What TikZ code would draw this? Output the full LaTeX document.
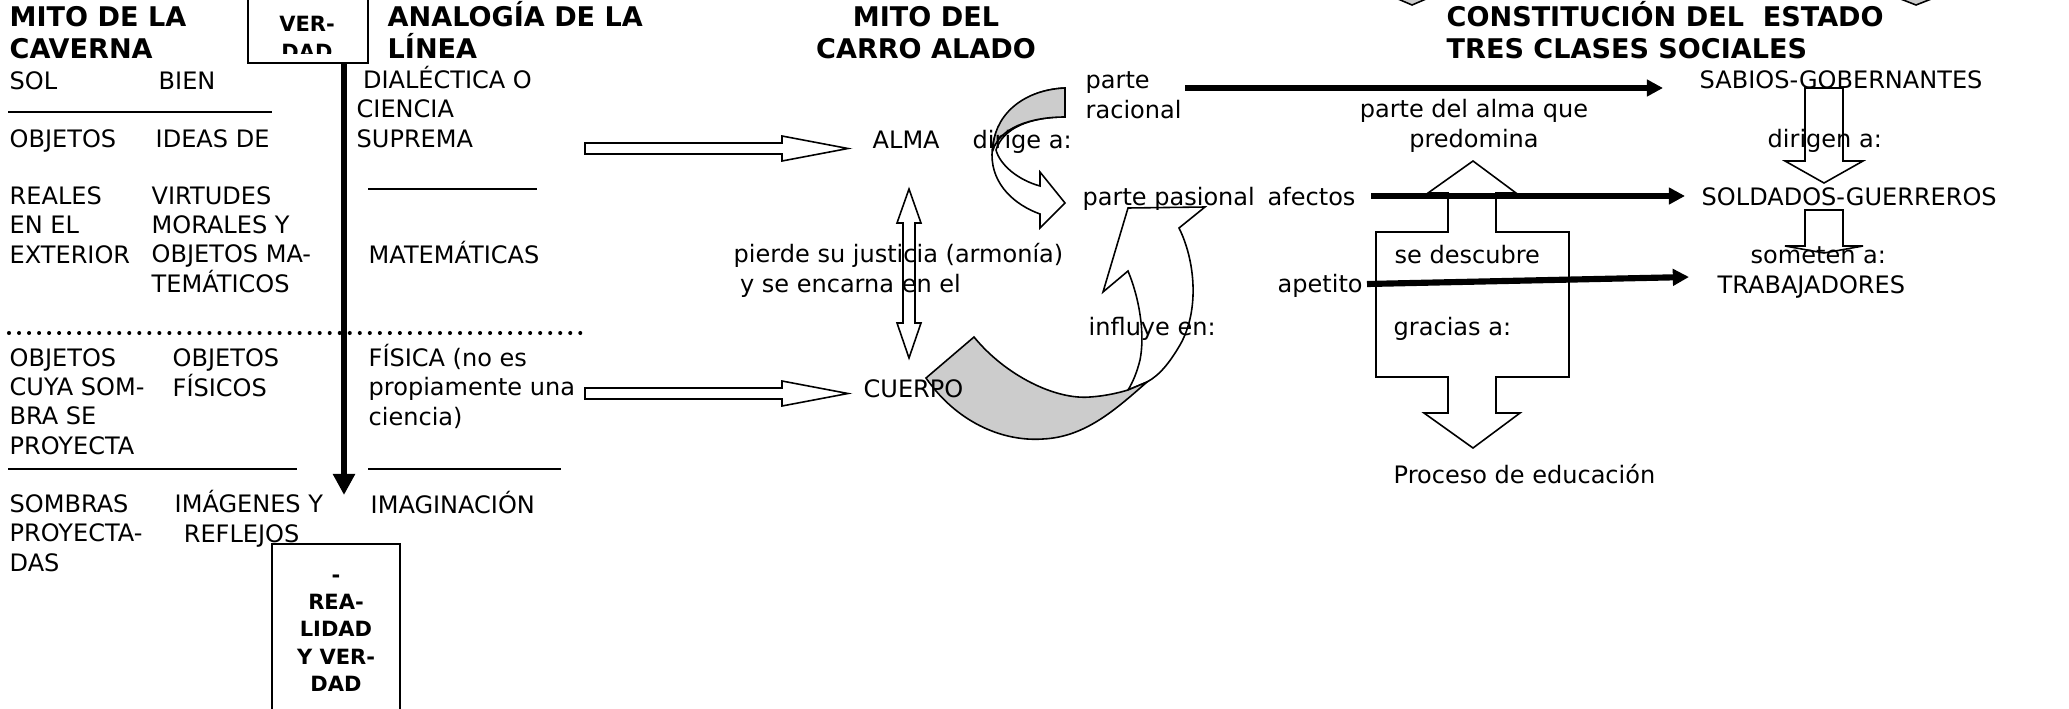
\documentclass[tikz,border=0pt]{standalone}
\usepackage{fontspec}
\setmainfont{DejaVu Sans}
\usetikzlibrary{arrows.meta}
\tikzset{
txt/.style={anchor=base west, inner sep=0, align=left, font=\fontsize{6.83}{8.25}\selectfont},
ttl/.style={txt, font=\bfseries\fontsize{7.7}{8.82}\selectfont},
boxtxt/.style={anchor=base, inner sep=0, align=center, font=\bfseries\fontsize{5.97}{7.68}\selectfont},
rule/.style={line width=0.5pt},
dots/.style={line width=1.15pt, line cap=round, dash pattern=on 0pt off 2.85pt},
heavy/.style={line width=1.75pt, -{Triangle[length=4.6pt, width=4.6pt]}},
hollow/.style={draw, line width=0.45pt, fill=white},
shade/.style={draw, line width=0.45pt, fill=gray!40}}

\begin{document}
\begin{tikzpicture}[x=0.01cm, y=-0.01cm]
\useasboundingbox (0,0) rectangle (2069,709);

% block arrows and curved arrows
\draw[hollow] (585,143) -- (782,143) -- (782,136) -- (848,148.5) -- (782,161) -- (782,154) -- (585,154) -- cycle;
\draw[hollow] (585,388) -- (782,388) -- (782,381) -- (848,393.5) -- (782,406) -- (782,399) -- (585,399) -- cycle;
\draw[line width=0.45pt] (909,189) -- (921,223) -- (915,223) -- (915,323) -- (921,323) -- (909,358)
  -- (897,323) -- (903,323) -- (903,223) -- (897,223) -- cycle;
% dirige a:
\draw[hollow] (1065,88) .. controls (1020,90) and (992,120) .. (992,155)
  .. controls (992,185) and (1015,205) .. (1040,214) -- (1040,228) -- (1065,203) -- (1040,172) -- (1040,186)
  .. controls (1018,180) and (1000,165) .. (996,150) .. controls (1003,128) and (1030,117) .. (1065,117) -- cycle;
\draw[shade] (1065,88) .. controls (1020,90) and (993,118) .. (993,150)
  .. controls (1000,128) and (1030,117) .. (1065,117) -- cycle;
% influye en:
\draw[hollow] (1147,382) .. controls (1160,375) and (1170,362) .. (1180,345)
  .. controls (1200,310) and (1195,260) .. (1179,228) -- (1205,207) -- (1128,208) -- (1103,292) -- (1128,271)
  .. controls (1140,300) and (1145,335) .. (1140,360) .. controls (1137,372) and (1133,382) .. (1128,390) -- cycle;
\draw[shade] (926,378) .. controls (955,420) and (1000,442) .. (1043,439)
  .. controls (1085,437) and (1115,410) .. (1147,382) -- (1128,390)
  .. controls (1118,393) and (1105,396) .. (1090,397) .. controls (1055,400) and (1005,375) .. (974,337) -- cycle;
% se descubre / gracias a:
\draw[hollow] (1473,161) -- (1516,193) -- (1496,193) -- (1496,232) -- (1569,232) -- (1569,377) -- (1496,377)
  -- (1496,413) -- (1520,413) -- (1473,448) -- (1424,413) -- (1448,413) -- (1448,377) -- (1376,377)
  -- (1376,232) -- (1448,232) -- (1448,193) -- (1428,193) -- cycle;
\draw[line width=0.45pt] (1805,88) -- (1843,88) -- (1843,161) -- (1863,161) -- (1824,183) -- (1785,161) -- (1805,161) -- cycle;
\draw[line width=0.45pt] (1805,210) -- (1843,210) -- (1843,246) -- (1863,246) -- (1824,253) -- (1785,246) -- (1805,246) -- cycle;
\draw[shade] (1391,-4) -- (1412,5) -- (1433,-4) -- cycle;
\draw[shade] (1893,-4) -- (1916,5) -- (1939,-4) -- cycle;

% titles (base = last line)
\node[ttl] (caverna) at (9,58) {MITO DE LA\\CAVERNA};
\node[ttl] (analogia) at (387,58) {ANALOGÍA DE LA\\LÍNEA};
\node[ttl, anchor=base, align=center] (carro) at (926,58) {MITO DEL\\CARRO ALADO};
\node[ttl] (estado) at (1446,58) {CONSTITUCIÓN DEL\ \ ESTADO\\TRES CLASES SOCIALES};

% boxes on the line
\draw[rule] (248,-10) rectangle (368,63);
\begin{scope}
  \clip (248,0) rectangle (368,53);
  \node[boxtxt] (verdad-top) at (307,59) {VER-\\DAD};
\end{scope}
\draw[rule] (272,544) rectangle (400,712);
\node[boxtxt] (verdad-bot) at (336,691) {-\\REA-\\LIDAD\\Y VER-\\DAD};
\coordinate (line-top) at (344,63);
\coordinate (line-end) at (344,495);
\draw[line width=1.75pt, -{Triangle[length=6pt, width=6pt]}] (line-top) -- (line-end);

% caverna y linea
\node[txt] (sol) at (9,89) {SOL};
\node[txt] (bien) at (158,89) {BIEN};
\node[txt] (obj-1) at (9,147) {OBJETOS};
\node[txt] (ideas) at (155,147) {IDEAS DE};
\node[txt] (reales) at (9,263) {REALES\\EN EL\\EXTERIOR};
\node[txt] (virtudes) at (151,292) {VIRTUDES\\MORALES Y\\OBJETOS MA-\\TEMÁTICOS};
\node[txt] (obj-2) at (9,454) {OBJETOS\\CUYA SOM-\\BRA SE\\PROYECTA};
\node[txt] (obj-3) at (172,396) {OBJETOS\\FÍSICOS};
\node[txt] (sombras) at (9,571) {SOMBRAS\\PROYECTA-\\DAS};
\node[txt] (imagenes) at (174,542) {IMÁGENES Y\\\hspace*{2.6pt}REFLEJOS};
\node[txt] (dialectica) at (356,147) {\hspace*{1.8pt}DIALÉCTICA O\\CIENCIA\\SUPREMA};
\node[txt] (matem) at (368,263) {MATEMÁTICAS};
\node[txt] (fisica) at (368,425) {FÍSICA (no es\\propiamente una\\ciencia)};
\node[txt] (imaginacion) at (370,513) {IMAGINACIÓN};
\draw[rule] (8,112) -- (272,112);
\draw[rule] (368,189) -- (537,189);
\draw[rule] (8,469) -- (297,469);
\draw[rule] (368,469) -- (561,469);
\draw[dots] (9,333) -- (584,333);

% carro alado
\node[txt] (alma) at (872,148) {ALMA};
\node[txt] (dirige) at (972,148) {dirige a:};
\node[txt] (racional) at (1085,118) {parte\\racional};
\node[txt] (pasional) at (1082,205) {parte pasional};
\node[txt] (afectos) at (1267,205) {afectos};
\node[txt] (pierde) at (733,292) {pierde su justicia (armonía)\\\hspace*{1.8pt}y se encarna en el};
\node[txt] (apetito) at (1277,292) {apetito};
\node[txt] (influye) at (1088,335) {influye en:};
\node[txt] (cuerpo) at (863,397) {CUERPO};

% estado
\node[txt, anchor=base, align=center] (predomina) at (1474,147) {parte del alma que\\predomina};
\node[txt] (sabios) at (1699,88) {SABIOS-GOBERNANTES};
\node[txt] (dirigen) at (1767,147) {dirigen a:};
\node[txt] (soldados) at (1701,205) {SOLDADOS-GUERREROS};
\node[txt] (someten) at (1750,263) {someten a:};
\node[txt] (trabajadores) at (1717,293) {TRABAJADORES};
\node[txt] (descubre) at (1394,263) {se descubre};
\node[txt] (gracias) at (1393,335) {gracias a:};
\node[txt] (proceso) at (1393,483) {Proceso de educación};

\coordinate (racional-out) at (1185,88);
\coordinate (sabios-in) at (1663,88);
\coordinate (afectos-out) at (1371,196);
\coordinate (soldados-in) at (1685,196);
\coordinate (apetito-out) at (1367,284);
\coordinate (trabajadores-in) at (1689,277);
\draw[heavy] (racional-out) -- (sabios-in);
\draw[heavy] (afectos-out) -- (soldados-in);
\draw[heavy] (apetito-out) -- (trabajadores-in);
\end{tikzpicture}
\end{document}
